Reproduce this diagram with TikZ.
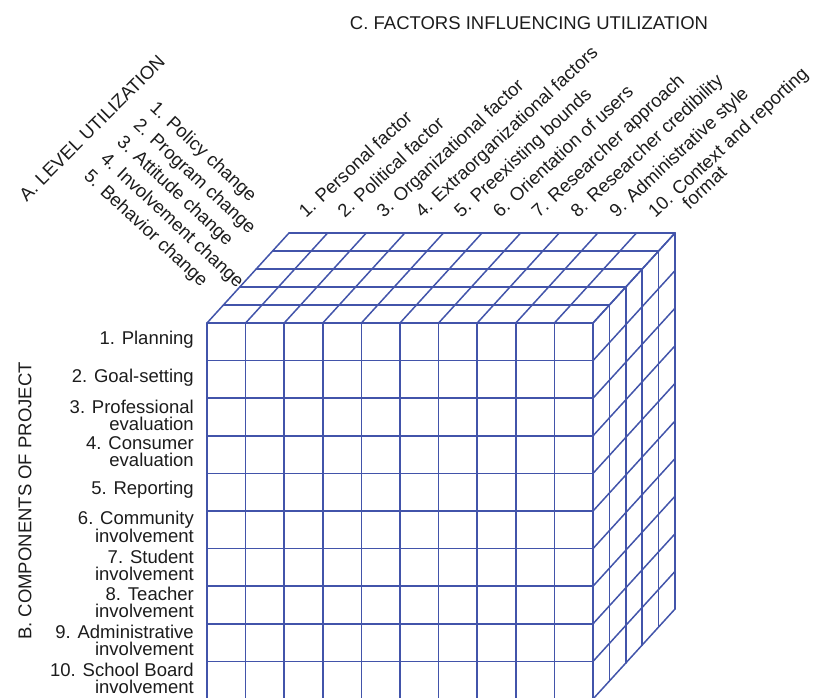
\documentclass[tikz,border=0pt]{standalone}
\usepackage{fontspec}
\setmainfont{Liberation Sans}
\usetikzlibrary{calc}
\definecolor{gridblue}{RGB}{66,84,170}
\definecolor{ink}{RGB}{28,28,28}
\begin{document}
\begin{tikzpicture}[x=1pt,y=-1pt,
  lbl/.style={inner sep=0pt, text=ink, font=\fontsize{18.5}{17}\selectfont},
  gridline/.style={draw=gridblue, line width=1.5pt, line cap=round, line join=round}]
\useasboundingbox (0,0) rectangle (814,697);
\clip (0,0) rectangle (814,697);

% ---- cube: 10 columns x 10 rows x 5 layers ----
% front face
\foreach \i in {0,...,10}
  \draw[gridline] ({207+\i*38.6},323) -- ({207+\i*38.6},699);
\foreach \k in {0,...,10}
  \draw[gridline] (207,{323+\k*37.6}) -- (593,{323+\k*37.6});
% top face
\foreach \j in {1,...,5}
  \draw[gridline] ({207+\j*16.4},{323-\j*18}) -- ({593+\j*16.4},{323-\j*18});
\foreach \i in {0,...,10}
  \draw[gridline] ({207+\i*38.6},323) -- ++(82,-90);
% right face
\foreach \j in {1,...,5}
  \draw[gridline] ({593+\j*16.4},{323-\j*18}) -- ({593+\j*16.4},{699-\j*18});
\foreach \k in {0,...,10}
  \draw[gridline] (593,{323+\k*37.6}) -- ++(82,-90);

% ---- axis B: components of project ----
\node[lbl, rotate=90] (btitle) at (25,501) {B. COMPONENTS OF PROJECT};
\node[lbl, anchor=east, align=right] (b1)  at (194,340) {1. Planning};
\node[lbl, anchor=east, align=right] (b2)  at (194,378) {2. Goal-setting};
\node[lbl, anchor=east, align=right] (b3)  at (194,415) {3. Professional\\evaluation};
\node[lbl, anchor=east, align=right] (b4)  at (194,452) {4. Consumer\\evaluation};
\node[lbl, anchor=east, align=right] (b5)  at (194,490) {5. Reporting};
\node[lbl, anchor=east, align=right] (b6)  at (194,527) {6. Community\\involvement};
\node[lbl, anchor=east, align=right] (b7)  at (194,565) {7. Student\\involvement};
\node[lbl, anchor=east, align=right] (b8)  at (194,602) {8. Teacher\\involvement};
\node[lbl, anchor=east, align=right] (b9)  at (194,640) {9. Administrative\\involvement};
\node[lbl, anchor=east, align=right] (b10) at (194,678) {10. School Board\\involvement};

% ---- axis A: level of utilization ----
\node[lbl, rotate=45] (atitle) at (92,128) {A. LEVEL UTILIZATION};
\foreach \t [count=\j from 0] in {1. Policy change, 2. Program change, 3. Attitude change,
    4. Involvement change, 5. Behavior change}
  \node[lbl, rotate=-43, anchor=base west] (a\j) at ({149-\j*16.5},{109+\j*17.2}) {\t};

% ---- axis C: factors influencing utilization ----
\node[lbl] (ctitle) at (529,23) {C. FACTORS INFLUENCING UTILIZATION};
\foreach \t [count=\i from 0] in {1. Personal factor, 2. Political factor,
    3. Organizational factor, 4. Extraorganizational factors, 5. Preexisting bounds,
    6. Orientation of users, 7. Researcher approach, 8. Researcher credibility,
    9. Administrative style, 10. Context and reporting}
  \node[lbl, rotate=43, anchor=base west] (c\i) at ({306+\i*38.8},219) {\t};
\node[lbl, rotate=43, anchor=base west] (c9b) at ($(c9.base west)+(34.3,-8.8)$) {format};
\end{tikzpicture}
\end{document}
